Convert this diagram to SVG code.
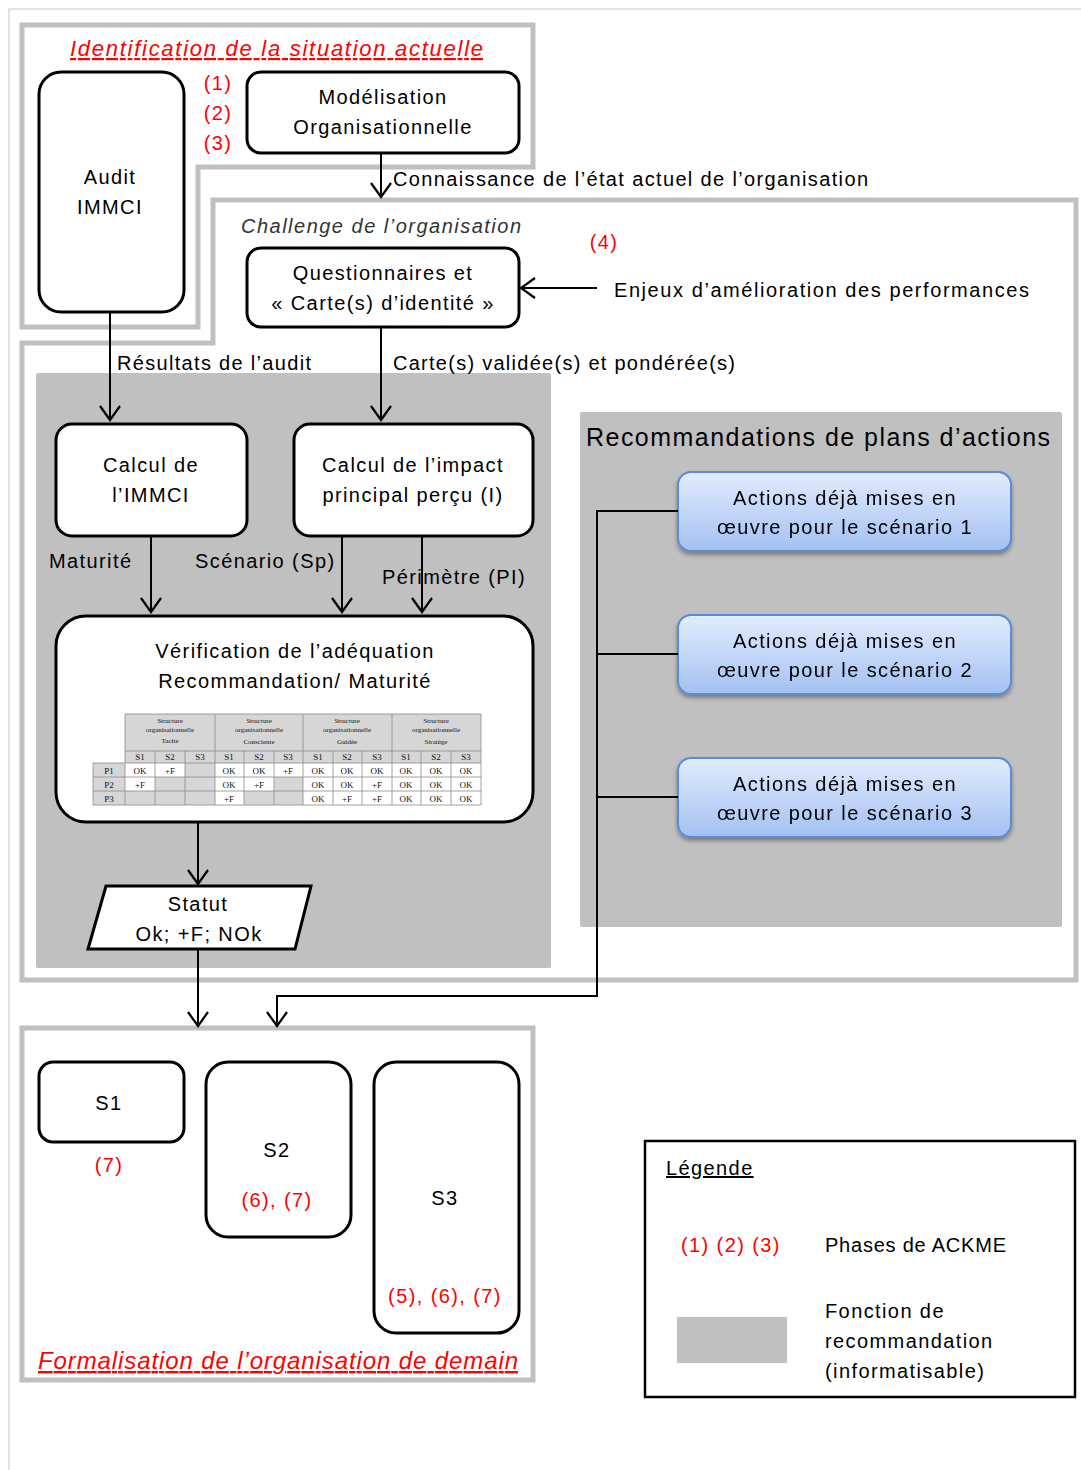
<svg xmlns="http://www.w3.org/2000/svg" width="1081" height="1470" viewBox="0 0 1081 1470">
<style>
text{font-family:"Liberation Sans",Arial,sans-serif;font-size:20px;fill:#000;letter-spacing:1.4px}
.c{text-anchor:middle}
.red{fill:#ff0000}
.it{font-style:italic}
.frame{fill:none;stroke:#c0c0c0;stroke-width:5}
.node{fill:#fff;stroke:#000;stroke-width:3}
.area{fill:#c0c0c0}
.act{fill:url(#blue);stroke:#5b8ad6;stroke-width:2}
.con{fill:none;stroke:#000;stroke-width:2}
.arr{marker-end:url(#ah)}
.tb text{font-family:"Liberation Serif","Times New Roman",serif;font-size:9px;text-anchor:middle;fill:#111;letter-spacing:0}
.tb .h{font-size:7px}
.grid{stroke:#8a8a8a;stroke-width:0.8;fill:none}
</style>
<defs>
<marker id="ah" markerUnits="userSpaceOnUse" viewBox="-2 -2 18 24" markerWidth="18" markerHeight="24" refX="14" refY="10" orient="auto">
<path d="M0,0 L14,10 L0,20" fill="none" stroke="#000" stroke-width="2.2"/>
</marker>
<linearGradient id="blue" x1="0" y1="0" x2="0" y2="1">
<stop offset="0" stop-color="#e2ecfd"/>
<stop offset="1" stop-color="#a3c1f3"/>
</linearGradient>
<filter id="sh" x="-10%" y="-10%" width="120%" height="140%">
<feDropShadow dx="0" dy="3" stdDeviation="2" flood-color="#000" flood-opacity="0.35"/>
</filter>
</defs>
<rect width="1081" height="1470" fill="#fff"/>
<path d="M9,1470 V9 H1081" fill="none" stroke="#d9d9d9" stroke-width="1.5"/>

<g id="frame-identification">
<path class="frame" d="M22,25 H533 V167 H198 V327 H22 Z"/>
<text class="red it" x="70" y="56" text-decoration="underline" textLength="413" lengthAdjust="spacing" style="font-size:22px;letter-spacing:0">Identification de la situation actuelle</text>
</g>
<g id="frame-challenge">
<path class="frame" d="M213,200 H1076 V980 H22 V343 H213 Z"/>
<text class="it" x="241" y="233" textLength="280" lengthAdjust="spacing" style="fill:#333;letter-spacing:0">Challenge de l’organisation</text>
</g>
<g id="area-left"><rect class="area" x="36" y="373" width="515" height="595" rx="2"/></g>
<g id="area-right">
<rect class="area" x="580" y="412" width="482" height="515" rx="2"/>
<text x="586" y="446" textLength="464" lengthAdjust="spacing" style="font-size:25px;letter-spacing:0">Recommandations de plans d’actions</text>
</g>
<g id="frame-formalisation">
<rect class="frame" x="22" y="1028" width="511" height="352"/>
<text class="red it" x="38" y="1369" text-decoration="underline" textLength="480" lengthAdjust="spacing" style="font-size:24px;letter-spacing:0">Formalisation de l’organisation de demain</text>
</g>

<g id="audit">
<rect class="node" x="39" y="72" width="145" height="240" rx="22"/>
<text class="c" x="110" y="184">Audit</text>
<text class="c" x="110" y="214">IMMCI</text>
</g>
<g id="modelisation">
<rect class="node" x="247" y="72" width="272" height="81" rx="14"/>
<text class="c" x="383" y="104">Modélisation</text>
<text class="c" x="383" y="134">Organisationnelle</text>
</g>
<g id="phases123">
<text class="c red" x="218" y="90">(1)</text>
<text class="c red" x="218" y="120">(2)</text>
<text class="c red" x="218" y="150">(3)</text>
</g>
<g id="questionnaires">
<rect class="node" x="247" y="248" width="272" height="79" rx="14"/>
<text class="c" x="383" y="280">Questionnaires et</text>
<text class="c" x="383" y="310">« Carte(s) d’identité »</text>
</g>
<g id="phase4"><text class="c red" x="604" y="249">(4)</text></g>
<g id="calcul-immci">
<rect class="node" x="56" y="424" width="191" height="112" rx="16"/>
<text class="c" x="151" y="472">Calcul de</text>
<text class="c" x="151" y="502">l’IMMCI</text>
</g>
<g id="calcul-impact">
<rect class="node" x="294" y="424" width="239" height="112" rx="16"/>
<text class="c" x="413" y="472">Calcul de l’impact</text>
<text class="c" x="413" y="502">principal perçu (I)</text>
</g>
<g id="verification">
<rect class="node" x="56" y="616" width="477" height="206" rx="30"/>
<text class="c" x="295" y="658">Vérification de l’adéquation</text>
<text class="c" x="295" y="688">Recommandation/ Maturité</text>
<g class="tb">
<rect x="125" y="714" width="356" height="91" fill="#d6d6d6"/>
<rect x="93" y="763" width="32" height="42" fill="#d6d6d6"/>
<g fill="#fff">
<rect x="125" y="763" width="30" height="14"/><rect x="155" y="763" width="30" height="14"/>
<rect x="215" y="763" width="29" height="14"/><rect x="244" y="763" width="30" height="14"/><rect x="274" y="763" width="29" height="14"/>
<rect x="303" y="763" width="178" height="14"/>
<rect x="125" y="777" width="30" height="14"/>
<rect x="215" y="777" width="29" height="14"/><rect x="244" y="777" width="30" height="14"/>
<rect x="303" y="777" width="178" height="14"/>
<rect x="215" y="791" width="29" height="14"/>
<rect x="303" y="791" width="178" height="14"/>
</g>
<path class="grid" d="M125,714 H481 M125,751 H481 M93,763 H481 M93,777 H481 M93,791 H481 M93,805 H481 M93,763 V805 M125,714 V805 M215,714 V805 M303,714 V805 M392,714 V805 M481,714 V805 M155,751 V805 M185,751 V805 M244,751 V805 M274,751 V805 M333,751 V805 M362,751 V805 M421,751 V805 M451,751 V805"/>
<text class="h" x="170" y="723">Structure</text><text class="h" x="170" y="732">organisationnelle</text><text class="h" x="170" y="743">Tacite</text>
<text class="h" x="259" y="723">Structure</text><text class="h" x="259" y="732">organisationnelle</text><text class="h" x="259" y="744">Consciente</text>
<text class="h" x="347" y="723">Structure</text><text class="h" x="347" y="732">organisationnelle</text><text class="h" x="347" y="744">Guidée</text>
<text class="h" x="436" y="723">Structure</text><text class="h" x="436" y="732">organisationnelle</text><text class="h" x="436" y="744">Stratège</text>
<text x="140" y="760">S1</text><text x="170" y="760">S2</text><text x="200" y="760">S3</text>
<text x="229" y="760">S1</text><text x="259" y="760">S2</text><text x="288" y="760">S3</text>
<text x="318" y="760">S1</text><text x="347" y="760">S2</text><text x="377" y="760">S3</text>
<text x="406" y="760">S1</text><text x="436" y="760">S2</text><text x="466" y="760">S3</text>
<text x="109" y="774">P1</text><text x="109" y="788">P2</text><text x="109" y="802">P3</text>
<text x="140" y="774">OK</text><text x="170" y="774">+F</text>
<text x="229" y="774">OK</text><text x="259" y="774">OK</text><text x="288" y="774">+F</text>
<text x="318" y="774">OK</text><text x="347" y="774">OK</text><text x="377" y="774">OK</text>
<text x="406" y="774">OK</text><text x="436" y="774">OK</text><text x="466" y="774">OK</text>
<text x="140" y="788">+F</text>
<text x="229" y="788">OK</text><text x="259" y="788">+F</text>
<text x="318" y="788">OK</text><text x="347" y="788">OK</text><text x="377" y="788">+F</text>
<text x="406" y="788">OK</text><text x="436" y="788">OK</text><text x="466" y="788">OK</text>
<text x="229" y="802">+F</text>
<text x="318" y="802">OK</text><text x="347" y="802">+F</text><text x="377" y="802">+F</text>
<text x="406" y="802">OK</text><text x="436" y="802">OK</text><text x="466" y="802">OK</text>
</g>
</g>
<g id="statut">
<path class="node" d="M106,886 H311 L295,949 H88 Z"/>
<text class="c" x="198" y="911">Statut</text>
<text class="c" x="199" y="941">Ok; +F; NOk</text>
</g>
<g id="actions1" filter="url(#sh)">
<rect class="act" x="678" y="472" width="333" height="79" rx="13"/>
<text class="c" x="845" y="505">Actions déjà mises en</text>
<text class="c" x="845" y="534">œuvre pour le scénario 1</text>
</g>
<g id="actions2" filter="url(#sh)">
<rect class="act" x="678" y="615" width="333" height="79" rx="13"/>
<text class="c" x="845" y="648">Actions déjà mises en</text>
<text class="c" x="845" y="677">œuvre pour le scénario 2</text>
</g>
<g id="actions3" filter="url(#sh)">
<rect class="act" x="678" y="758" width="333" height="79" rx="13"/>
<text class="c" x="845" y="791">Actions déjà mises en</text>
<text class="c" x="845" y="820">œuvre pour le scénario 3</text>
</g>
<g id="s1">
<rect class="node" x="39" y="1062" width="145" height="80" rx="14"/>
<text class="c" x="109" y="1110">S1</text>
<text class="c red" x="109" y="1172">(7)</text>
</g>
<g id="s2">
<rect class="node" x="206" y="1062" width="145" height="175" rx="22"/>
<text class="c" x="277" y="1157">S2</text>
<text class="c red" x="277" y="1207">(6), (7)</text>
</g>
<g id="s3">
<rect class="node" x="374" y="1062" width="145" height="271" rx="22"/>
<text class="c" x="445" y="1205">S3</text>
<text class="c red" x="445" y="1303">(5), (6), (7)</text>
</g>
<g id="legende">
<rect x="645" y="1141" width="430" height="256" fill="#fff" stroke="#000" stroke-width="2.5"/>
<text x="666" y="1175" text-decoration="underline">Légende</text>
<text class="red" x="681" y="1252">(1) (2) (3)</text>
<text x="825" y="1252" textLength="181" lengthAdjust="spacing" style="letter-spacing:0">Phases de ACKME</text>
<rect x="677" y="1317" width="110" height="46" fill="#c0c0c0"/>
<text x="825" y="1318">Fonction de</text>
<text x="825" y="1348">recommandation</text>
<text x="825" y="1378">(informatisable)</text>
</g>

<g id="labels">
<text x="393" y="186" textLength="475" lengthAdjust="spacing" style="letter-spacing:0">Connaissance de l’état actuel de l’organisation</text>
<text x="614" y="297" textLength="415" lengthAdjust="spacing" style="letter-spacing:0">Enjeux d’amélioration des performances</text>
<text x="117" y="370" textLength="194" lengthAdjust="spacing" style="letter-spacing:0">Résultats de l’audit</text>
<text x="393" y="370" textLength="342" lengthAdjust="spacing" style="letter-spacing:0">Carte(s) validée(s) et pondérée(s)</text>
<text x="49" y="568">Maturité</text>
<text x="195" y="568">Scénario (Sp)</text>
<text x="382" y="584">Périmètre (PI)</text>
</g>
<g id="connectors">
<path class="con arr" d="M381,153 V197"/>
<path class="con arr" d="M597,288 H521"/>
<path class="con arr" d="M110,312 V420"/>
<path class="con arr" d="M381,327 V420"/>
<path class="con arr" d="M151,536 V612"/>
<path class="con arr" d="M342,536 V612"/>
<path class="con arr" d="M422,536 V612"/>
<path class="con arr" d="M198,822 V884"/>
<path class="con arr" d="M198,949 V1026"/>
<path class="con arr" d="M678,511 H597 V996 H277 V1026"/>
<path class="con" d="M597,654 H678 M597,797 H678"/>
</g>
</svg>
